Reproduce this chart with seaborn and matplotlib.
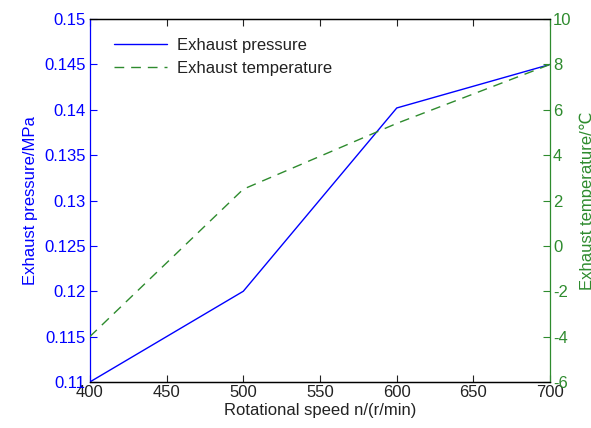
import matplotlib
matplotlib.use("Agg")
import matplotlib.pyplot as plt
import seaborn as sns
import pandas as pd

speed = [400, 500, 600, 700]
pressure = [0.110, 0.120, 0.1402, 0.145]
temperature = [-4.0, 2.5, 5.4, 8.0]

sns.set_theme(style="white")
plt.rcParams['font.family'] = ['Liberation Sans', 'DejaVu Sans']
plt.rcParams['axes.unicode_minus'] = False

df = pd.DataFrame({"speed": speed, "pressure": pressure, "temperature": temperature})

fig = plt.figure(figsize=(5.91, 4.28), dpi=100)
ax = fig.add_axes([0.152, 0.1075, 0.779, 0.848])
ax2 = ax.twinx()

blue = "#0000ff"
green = "#2e8b2e"

sns.lineplot(data=df, x="speed", y="pressure", ax=ax, color=blue, lw=1.0,
             label="Exhaust pressure", legend=False)
sns.lineplot(data=df, x="speed", y="temperature", ax=ax2, color=green, lw=1.0,
             linestyle=(0, (7, 5)), label="Exhaust temperature", legend=False)

ax.set_xlim(400, 700)
ax.set_ylim(0.11, 0.15)
ax2.set_ylim(-6, 10)
ax.set_xticks([400, 450, 500, 550, 600, 650, 700])
ax.set_yticks([0.11, 0.115, 0.12, 0.125, 0.13, 0.135, 0.14, 0.145, 0.15])
ax.set_yticklabels(["0.11", "0.115", "0.12", "0.125", "0.13", "0.135", "0.14", "0.145", "0.15"])
ax2.set_yticks(list(range(-6, 11, 2)))

fs = 12
ax.set_xlabel("Rotational speed n/(r/min)", fontsize=fs, color="#222222", labelpad=2)
ax.set_ylabel("Exhaust pressure/MPa", fontsize=fs, color=blue, labelpad=4)
ax2.set_ylabel("Exhaust temperature/℃", fontsize=fs, color=green, labelpad=6)

ax.tick_params(axis="x", direction="in", top=True, bottom=True, length=5, labelsize=fs,
               colors="#222222", pad=2, width=0.8)
ax.tick_params(axis="y", direction="in", length=5, labelsize=fs, colors=blue, pad=3, width=0.8)
ax2.tick_params(axis="y", direction="in", length=5, labelsize=fs, colors=green, pad=2, width=0.8)

for a in (ax, ax2):
    for s in a.spines.values():
        s.set_linewidth(0.9)
        s.set_visible(True)
ax.spines["left"].set_color(blue)
ax.spines["top"].set_color("black")
ax.spines["bottom"].set_color("black")
ax2.spines["right"].set_color(green)
ax2.spines["left"].set_visible(False)
ax2.spines["top"].set_color("black")
ax2.spines["bottom"].set_color("black")
ax.spines["right"].set_visible(False)

h1, lb1 = ax.get_legend_handles_labels()
h2, lb2 = ax2.get_legend_handles_labels()
leg = ax2.legend(h1 + h2, lb1 + lb2, loc="upper left", bbox_to_anchor=(0.02, 0.99),
                 frameon=False, fontsize=fs, handlelength=3.2, handletextpad=0.6,
                 labelspacing=0.5)
for t in leg.get_texts():
    t.set_color("#222222")

fig.savefig("out.png", dpi=100)
